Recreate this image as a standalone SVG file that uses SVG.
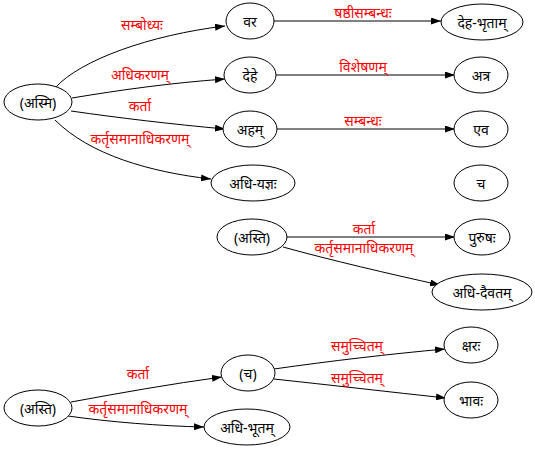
<svg xmlns="http://www.w3.org/2000/svg" width="535" height="449" viewBox="0 0 535 449">
<style>
.n ellipse{fill:#fff;stroke:#000;stroke-width:1}
.n text{font-family:"Noto Sans","DejaVu Sans",sans-serif;font-size:14px;fill:#000;text-anchor:middle;dominant-baseline:central}
.e path{fill:none;stroke:#000;stroke-width:1}
.e text{font-family:"Noto Sans","DejaVu Sans",sans-serif;font-size:14px;fill:#f00;text-anchor:middle;dominant-baseline:central}
</style>
<defs>
<marker id="a" viewBox="0 0 10 7" refX="10" refY="3.5" markerWidth="10" markerHeight="7" markerUnits="userSpaceOnUse" orient="auto">
<path d="M0,0L10,3.5L0,7z" fill="#000"/>
</marker>
</defs>
<rect width="535" height="449" fill="#fff"/>
<g class="e" id="edges">
<path d="M55,88C80,60 150,35 225,26" marker-end="url(#a)"/>
<text x="142" y="24">सम्बोध्यः</text>
<path d="M72,98C120,90 170,83 225,79" marker-end="url(#a)"/>
<text x="140" y="74">अधिकरणम्</text>
<path d="M71,111C120,118 170,124 225,129" marker-end="url(#a)"/>
<text x="140" y="105">कर्ता</text>
<path d="M55,120C90,155 150,172 211,179" marker-end="url(#a)"/>
<text x="140" y="138">कर्तृसमानाधिकरणम्</text>
<path d="M274,21L441,21" marker-end="url(#a)"/>
<text x="363" y="12">षष्ठीसम्बन्धः</text>
<path d="M276,75L455,75" marker-end="url(#a)"/>
<text x="363" y="66">विशेषणम्</text>
<path d="M277,129L455,129" marker-end="url(#a)"/>
<text x="363" y="120">सम्बन्धः</text>
<path d="M287,237L455,237" marker-end="url(#a)"/>
<text x="364" y="228">कर्ता</text>
<path d="M283,247C330,260 390,274 440,285" marker-end="url(#a)"/>
<text x="364" y="247">कर्तृसमानाधिकरणम्</text>
<path d="M71,402C120,393 170,384 222,377" marker-end="url(#a)"/>
<text x="138" y="373">कर्ता</text>
<path d="M68,416C110,422 160,426 204,427" marker-end="url(#a)"/>
<text x="138" y="408">कर्तृसमानाधिकरणम्</text>
<path d="M274,369C330,361 390,354 445,349" marker-end="url(#a)"/>
<text x="357" y="345">समुच्चितम्</text>
<path d="M274,379C330,385 390,392 446,398" marker-end="url(#a)"/>
<text x="357" y="377">समुच्चितम्</text>
</g>
<g class="n" id="n_asmi"><ellipse cx="38" cy="102" rx="34" ry="18"/><text x="38" y="102">(अस्मि)</text></g>
<g class="n" id="n_vara"><ellipse cx="250" cy="21" rx="24" ry="18"/><text x="250" y="21">वर</text></g>
<g class="n" id="n_dehe"><ellipse cx="250" cy="75" rx="26" ry="18"/><text x="250" y="75">देहे</text></g>
<g class="n" id="n_aham"><ellipse cx="250" cy="129" rx="27" ry="18"/><text x="250" y="129">अहम्</text></g>
<g class="n" id="n_adhiyajna"><ellipse cx="253" cy="183" rx="42" ry="18"/><text x="253" y="183">अधि-यज्ञः</text></g>
<g class="n" id="n_dehabhrtam"><ellipse cx="482" cy="22" rx="41" ry="18"/><text x="482" y="22">देह-भृताम्</text></g>
<g class="n" id="n_atra"><ellipse cx="481" cy="75" rx="27" ry="18"/><text x="481" y="75">अत्र</text></g>
<g class="n" id="n_eva"><ellipse cx="481" cy="129" rx="27" ry="18"/><text x="481" y="129">एव</text></g>
<g class="n" id="n_ca"><ellipse cx="481" cy="183" rx="27" ry="18"/><text x="481" y="183">च</text></g>
<g class="n" id="n_asti1"><ellipse cx="252" cy="237" rx="35" ry="18"/><text x="252" y="237">(अस्ति)</text></g>
<g class="n" id="n_purusa"><ellipse cx="482" cy="237" rx="28" ry="18"/><text x="482" y="237">पुरुषः</text></g>
<g class="n" id="n_adhidaivatam"><ellipse cx="482" cy="292" rx="50" ry="18"/><text x="482" y="292">अधि-दैवतम्</text></g>
<g class="n" id="n_asti2"><ellipse cx="38" cy="408" rx="34" ry="18"/><text x="38" y="408">(अस्ति)</text></g>
<g class="n" id="n_ca2"><ellipse cx="248" cy="373" rx="27" ry="18"/><text x="248" y="373">(च)</text></g>
<g class="n" id="n_adhibhutam"><ellipse cx="247" cy="427" rx="43" ry="18"/><text x="247" y="427">अधि-भूतम्</text></g>
<g class="n" id="n_ksara"><ellipse cx="471" cy="345" rx="27" ry="18"/><text x="471" y="345">क्षरः</text></g>
<g class="n" id="n_bhava"><ellipse cx="471" cy="400" rx="27" ry="18"/><text x="471" y="400">भावः</text></g>
</svg>
